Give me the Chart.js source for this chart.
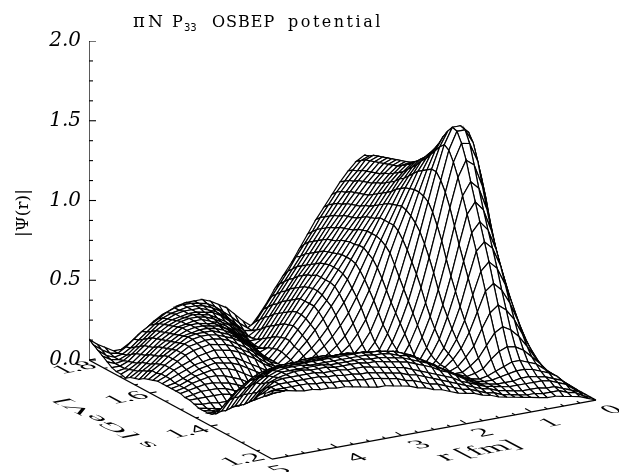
<!DOCTYPE html>
<html>
<head>
<meta charset="utf-8">
<style>body{margin:0;background:#fff}canvas{display:block}</style>
<script src="https://cdn.jsdelivr.net/npm/chart.js@4/dist/chart.umd.js"></script>
</head>
<body>
<canvas id="surface" width="619" height="472"></canvas>
<script>
// r [fm] along the columns, 0 to 5 in steps of 0.125
const rValues = [0,0.125,0.25,0.375,0.5,0.625,0.75,0.875,1,1.125,1.25,1.375,1.5,1.625,1.75,1.875,2,2.125,2.25,2.375,2.5,2.625,2.75,2.875,3,3.125,3.25,3.375,3.5,3.625,3.75,3.875,4,4.125,4.25,4.375,4.5,4.625,4.75,4.875,5];
const sValues = [1.2,1.215,1.23,1.245,1.26,1.275,1.29,1.305,1.32,1.335,1.35,1.365,1.38,1.395,1.41,1.425,1.44,1.455,1.47,1.485,1.5,1.515,1.53,1.545,1.56,1.575,1.59,1.605,1.62,1.635,1.65,1.665,1.68,1.695,1.71,1.725,1.74,1.755,1.77,1.785,1.8];
// |psi(r)|, x100, one row per s
const psiRows = [
[0,2,4,5,6,7,7,8,9,10,11,12,13,15,16,18,19,20,22,24,25,27,28,30,31,32,33,33,34,35,36,37,37,38,38,39,39,40,41,42,43],
[0,2,5,6,8,8,8,9,9,10,11,12,14,15,17,19,20,22,24,26,27,29,31,32,34,35,36,37,37,38,38,39,39,40,40,41,41,41,41,41,40],
[0,3,5,7,9,9,10,10,10,11,12,13,15,16,18,20,22,24,26,28,30,32,33,35,36,37,38,39,39,40,40,41,41,42,42,42,42,42,42,41,38],
[0,3,7,9,11,12,12,12,12,12,13,14,15,17,19,21,24,26,28,30,32,34,36,37,38,39,40,41,41,41,42,42,42,43,43,43,43,43,42,39,35],
[0,4,8,10,12,13,14,14,13,13,13,14,15,17,20,23,26,28,31,33,35,37,38,39,40,41,41,42,42,42,42,43,43,43,44,44,43,42,40,36,31],
[0,4,9,12,14,16,17,17,16,15,14,14,15,17,20,23,26,29,32,34,36,38,39,40,41,41,42,42,42,42,42,43,43,43,43,43,43,41,38,33,28],
[0,4,9,13,17,19,21,21,19,17,15,14,15,17,20,23,26,29,32,35,37,38,40,41,41,42,42,42,42,42,42,42,42,43,43,43,42,40,36,31,25],
[0,4,9,15,20,25,28,29,27,23,18,16,15,17,19,22,26,29,32,35,37,39,40,41,41,42,42,42,42,42,42,42,42,42,42,42,41,38,35,29,23],
[0,4,10,17,25,32,37,40,37,30,23,19,16,16,18,21,24,27,30,33,35,37,38,39,40,40,40,41,41,41,40,40,40,40,40,40,38,36,32,27,21],
[0,5,12,21,31,41,48,52,48,39,29,23,18,16,16,19,22,25,28,31,33,35,36,37,38,38,38,39,39,39,39,38,38,38,38,37,36,33,29,24,18],
[0,6,14,25,38,50,59,64,60,48,36,27,21,17,15,16,19,22,25,28,31,33,34,36,36,37,37,37,38,38,37,37,37,37,36,35,33,31,27,22,15],
[0,7,16,30,45,60,71,76,71,57,42,31,23,17,14,14,16,19,22,25,28,30,32,33,34,35,35,35,36,36,36,35,35,35,34,33,31,28,24,19,13],
[0,8,19,34,52,70,82,87,82,66,49,36,25,18,13,12,13,15,18,21,24,26,28,30,31,32,32,33,33,33,33,33,32,32,31,29,27,24,20,15,10],
[0,9,22,40,60,79,92,98,92,75,57,42,29,20,14,10,10,12,14,16,19,21,23,25,26,27,28,28,28,28,28,28,27,27,25,23,21,18,14,10,8],
[0,11,26,46,68,89,103,109,102,84,65,48,34,23,15,10,8,9,10,12,14,16,18,19,20,21,22,22,22,22,22,22,21,20,18,16,14,11,9,7,7],
[0,13,30,53,78,101,115,120,112,94,74,56,40,28,18,12,8,7,8,9,10,12,13,14,15,15,16,16,16,16,16,15,14,13,12,10,8,7,6,6,7],
[0,16,36,62,90,114,128,132,122,104,84,65,47,34,23,15,9,7,7,7,8,8,9,9,9,10,10,10,9,9,8,8,7,6,5,4,4,4,5,6,7],
[0,20,44,73,104,128,140,141,130,112,92,73,55,40,28,19,11,8,6,6,6,7,7,7,7,7,7,7,7,6,6,5,5,4,4,5,6,6,7,7,8],
[0,24,52,84,116,138,147,147,136,118,99,80,62,46,33,22,14,9,7,6,6,6,6,6,6,5,5,5,5,4,4,3,3,4,6,8,9,9,9,9,9],
[0,27,58,92,124,143,148,148,138,122,104,86,68,52,38,26,17,11,8,7,6,6,6,5,5,5,4,4,3,3,2,2,4,6,8,10,11,11,11,10,9],
[0,27,59,93,123,141,145,144,135,122,106,90,74,58,43,30,20,14,10,8,7,6,5,5,4,4,3,3,2,2,2,4,7,9,11,12,13,13,12,11,10],
[0,27,58,92,120,136,140,139,131,120,107,93,79,64,49,36,25,18,13,10,8,6,5,4,4,3,3,2,2,3,5,7,10,12,14,15,15,14,13,11,10],
[0,26,56,89,116,130,134,133,127,118,107,95,83,70,55,42,31,23,17,13,10,7,6,4,4,3,2,2,3,5,8,11,14,16,17,17,16,15,13,11,10],
[0,26,55,86,111,125,129,128,123,116,106,96,85,73,60,47,37,28,21,16,12,9,6,4,3,2,2,3,6,9,12,15,17,18,19,18,17,15,13,11,10],
[0,25,54,83,107,120,125,124,120,113,105,95,85,75,64,52,42,33,26,20,15,11,7,4,3,2,3,6,9,12,15,18,19,20,20,19,18,16,14,12,10],
[0,25,53,81,104,117,121,120,116,110,103,94,85,76,66,56,46,38,31,24,18,13,9,5,3,3,6,9,13,16,19,21,22,23,22,21,19,17,15,12,10],
[0,25,52,80,102,114,118,117,113,107,101,93,85,76,68,59,50,42,35,28,22,16,11,6,3,4,7,11,15,18,21,23,24,25,24,23,21,18,15,12,9],
[0,25,52,79,100,112,115,114,110,105,98,91,83,76,68,60,52,45,37,31,24,18,12,7,3,5,9,13,17,20,23,25,26,26,25,24,21,18,15,11,8],
[0,25,52,78,98,109,112,111,107,102,96,89,82,75,67,60,53,46,39,33,26,20,14,8,3,6,10,15,19,22,24,26,27,27,26,24,21,18,14,11,7],
[0,25,52,77,96,107,110,109,105,100,94,87,81,74,67,60,53,46,40,33,27,21,14,8,3,7,12,16,20,23,25,27,27,27,26,23,20,17,13,9,5],
[0,25,52,77,95,105,108,107,103,98,92,85,79,72,66,59,53,46,40,33,27,20,13,7,3,8,13,17,21,24,26,27,27,26,25,22,19,15,11,8,4],
[0,25,52,76,94,104,107,105,101,96,90,84,77,71,65,58,52,46,39,33,26,19,12,6,4,9,14,18,22,25,26,27,27,26,24,21,18,14,10,6,3],
[0,25,52,76,93,103,106,104,100,95,88,82,76,70,63,57,51,44,38,31,24,17,10,4,5,10,15,19,22,25,26,27,27,26,23,20,17,13,9,5,1],
[0,25,51,75,92,102,105,103,98,93,87,81,75,69,62,56,49,43,36,29,22,15,8,3,6,11,16,20,23,25,27,27,26,25,22,19,15,11,7,4,2],
[0,25,51,75,92,101,104,102,97,92,86,80,74,67,61,54,47,41,34,27,20,13,6,3,8,13,18,21,24,26,27,27,26,24,21,18,14,10,6,3,2],
[0,25,51,75,91,100,103,101,96,91,85,79,72,66,59,52,45,39,32,25,18,11,4,4,10,15,19,22,25,26,27,26,25,23,20,17,13,9,5,3,3],
[0,25,50,74,90,99,102,100,95,90,84,77,71,64,57,50,43,36,29,22,15,8,3,6,12,17,21,24,25,26,26,25,24,22,19,15,11,7,4,3,5],
[0,25,50,74,90,98,101,99,94,88,82,76,69,62,55,48,41,34,27,20,13,6,3,8,14,18,22,24,26,26,26,25,23,21,17,13,9,5,3,4,7],
[0,24,49,73,89,97,100,98,92,87,81,74,67,60,53,45,38,31,24,17,10,4,5,10,15,20,23,25,26,26,25,24,22,19,15,11,7,4,3,5,9],
[0,24,49,72,88,96,98,96,91,85,79,72,65,57,50,43,35,28,21,14,7,4,8,13,17,21,24,25,26,26,25,23,20,17,14,10,6,3,4,7,11],
[0,24,48,72,87,95,97,94,89,83,76,69,62,54,46,38,31,24,16,9,3,7,12,17,20,23,25,25,25,24,22,20,17,13,10,6,3,3,6,9,13]
];
const psiMajorTicks = [0,0.5,1,1.5,2];
const psiMinorTicks = [0.125,0.25,0.375,0.625,0.75,0.875,1.125,1.25,1.375,1.625,1.75,1.875];
const sMajorTicks = [1.4,1.6,1.8];
const sMinorTicks = [1.25,1.3,1.35,1.45,1.5,1.55,1.65,1.7,1.75];
const rMajorTicks = [1,2,3,4];
const rMinorTicks = [0.25,0.5,0.75,1.25,1.5,1.75,2.25,2.5,2.75,3.25,3.5,3.75,4.25,4.5,4.75];
const sLabels = ["1.2","1.4","1.6","1.8"];
const rLabels = ["0","1","2","3","4","5"];

// fixed oblique view: x axis in px, y axis in psi units, floor sits below psi = 0
const PX_PER_PSI = 159.5;
function project(r, s, psi) {
    const x = 596 - 64.8 * r - 305 * (s - 1.2);
    const floorRise = -40 - 11.8 * r + 165 * (s - 1.2);
    return { x: x, y: psi + floorRise / PX_PER_PSI };
}

function segment(points, width) {
    return {
        data: points,
        borderColor: "#000",
        borderWidth: width,
        pointRadius: 0,
        fill: false,
        tension: 0,
    };
}

const datasets = [];
// front cells first: chart.js paints dataset 0 last, so the near cells hide the far ones
for (let j = 0; j < sValues.length - 1; j++) {
    for (let i = rValues.length - 2; i >= 0; i--) {
        const a = project(rValues[i], sValues[j], psiRows[j][i] / 100);
        const b = project(rValues[i + 1], sValues[j], psiRows[j][i + 1] / 100);
        const c = project(rValues[i + 1], sValues[j + 1], psiRows[j + 1][i + 1] / 100);
        const d = project(rValues[i], sValues[j + 1], psiRows[j + 1][i] / 100);
        datasets.push({
            data: [a, b, c, d, a],
            borderColor: "#000",
            backgroundColor: "#fff",
            borderWidth: 1.2,
            pointRadius: 0,
            fill: "shape",
            tension: 0,
        });
    }
}

// box axes
datasets.push(segment([project(5, 1.8, 0), project(5, 1.8, 2)], 1.3));
datasets.push(segment([project(5, 1.8, 0), project(5, 1.2, 0)], 1.3));
datasets.push(segment([project(5, 1.2, 0), project(0, 1.2, 0)], 1.3));
psiMajorTicks.forEach((v) => {
    const p = project(5, 1.8, v);
    datasets.push(segment([p, { x: p.x + 7, y: p.y }], 1.1));
});
psiMinorTicks.forEach((v) => {
    const p = project(5, 1.8, v);
    datasets.push(segment([p, { x: p.x + 4, y: p.y }], 1.1));
});
sMajorTicks.forEach((v) => datasets.push(segment([project(5, v, 0), project(4.9, v, 0)], 1.1)));
sMinorTicks.forEach((v) => datasets.push(segment([project(5, v, 0), project(4.95, v, 0)], 1.1)));
rMajorTicks.forEach((v) => datasets.push(segment([project(v, 1.2, 0), project(v, 1.22, 0)], 1.1)));
rMinorTicks.forEach((v) => datasets.push(segment([project(v, 1.2, 0), project(v, 1.21, 0)], 1.1)));

// text lying in the floor plane: baseline along -r, letter tops along +s
function floorText(ctx, text, x, y, size) {
    ctx.save();
    ctx.font = size + 'px "Liberation Serif"';
    ctx.fillStyle = "#000";
    ctx.textAlign = "center";
    ctx.textBaseline = "middle";
    ctx.transform(1.5, -0.27, 0.98, 0.52, x, y);
    ctx.fillText(text, 0, 0);
    ctx.restore();
}

function titlePiece(ctx, text, x, y, font, spacing) {
    ctx.font = font;
    ctx.letterSpacing = spacing;
    ctx.fillText(text, x, y);
}

const textPlugin = {
    id: "textPlugin",
    afterDraw(chart) {
        const ctx = chart.ctx;
        ctx.save();
        ctx.fillStyle = "#000";
        ctx.textBaseline = "alphabetic";
        ctx.textAlign = "left";
        titlePiece(ctx, "π", 133, 27, '18px "DejaVu Serif"', "0px");
        titlePiece(ctx, "N", 148, 27, '17px "DejaVu Serif"', "0px");
        titlePiece(ctx, "P", 172, 27, '16px "DejaVu Serif"', "0px");
        titlePiece(ctx, "33", 184, 31, '10px "DejaVu Sans"', "0px");
        titlePiece(ctx, "OSBEP", 212, 27, '16px "DejaVu Serif"', "1px");
        titlePiece(ctx, "potential", 288, 27, '16px "DejaVu Serif"', "2.5px");
        ctx.letterSpacing = "0px";
        ctx.restore();

        const sSpots = [[243, 460], [188, 432], [127, 398], [75, 368]];
        sLabels.forEach((t, i) => floorText(ctx, t, sSpots[i][0], sSpots[i][1], 20));
        const rSpots = [[612, 410], [550, 423], [483, 433], [420, 445], [357, 458], [280, 470]];
        rLabels.forEach((t, i) => floorText(ctx, t, rSpots[i][0], rSpots[i][1], 20));
        floorText(ctx, "r [fm]", 479, 451, 22);

        ctx.save();
        ctx.font = '21px "Liberation Serif"';
        ctx.fillStyle = "#000";
        ctx.textAlign = "center";
        ctx.textBaseline = "middle";
        ctx.transform(-1.4, -0.72, 0.98, -0.18, 106, 423);
        ctx.fillText("s [GeV]", 0, 0);
        ctx.restore();

        ctx.save();
        ctx.font = '17px "DejaVu Serif"';
        ctx.fillStyle = "#000";
        ctx.textAlign = "center";
        ctx.textBaseline = "middle";
        ctx.translate(24, 213);
        ctx.rotate(-Math.PI / 2);
        ctx.fillText("|Ψ(r)|", 0, 0);
        ctx.restore();
    },
};

new Chart(document.getElementById("surface"), {
    type: "line",
    data: { datasets: datasets },
    options: {
        responsive: false,
        animation: false,
        events: [],
        layout: { padding: { top: 41, left: 0, right: 0, bottom: 0 } },
        plugins: { legend: { display: false }, tooltip: { enabled: false } },
        scales: {
            x: { type: "linear", min: 89, max: 619, display: false },
            y: {
                type: "linear",
                min: -0.702,
                max: 2,
                border: { display: false },
                grid: { display: false },
                afterBuildTicks(axis) {
                    axis.ticks = psiMajorTicks.map((v) => ({ value: v }));
                },
                afterFit(axis) {
                    axis.width = 89;
                    axis.paddingTop = 0;
                    axis.paddingBottom = 0;
                },
                ticks: {
                    autoSkip: false,
                    padding: 0,
                    color: "#000",
                    font: { family: "DejaVu Serif", size: 20, style: "italic" },
                    callback: (v) => v.toFixed(1),
                },
            },
        },
    },
    plugins: [textPlugin],
});
</script>
</body>
</html>
